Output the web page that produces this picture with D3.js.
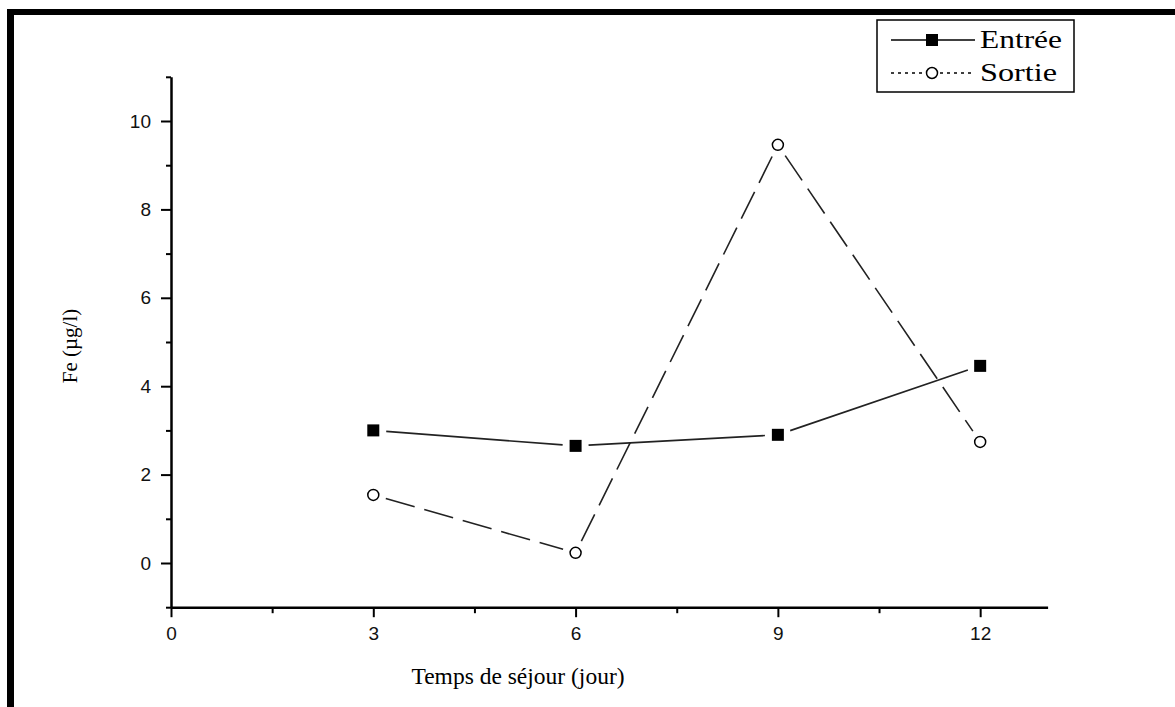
<!DOCTYPE html>
<html>
<head>
<meta charset="utf-8">
<script src="https://cdn.jsdelivr.net/npm/d3@7"></script>
<style>
  body { margin: 0; background: #fff; }
  svg { display: block; }
</style>
</head>
<body>
<svg width="1175" height="707"></svg>
<script>
// data
var days = [3, 6, 9, 12];
var entree = [3.0, 2.65, 2.9, 4.46];
var sortie = [1.54, 0.23, 9.46, 2.74];
var xTicks = [0, 3, 6, 9, 12];
var xMinor = [1.5, 4.5, 7.5, 10.5];
var yTicks = [0, 2, 4, 6, 8, 10];
var yMinor = [-1, 1, 3, 5, 7, 9, 11];

var svg = d3.select("svg");

// frame (top + left only)
svg.append("rect").attr("x", 7).attr("y", 9).attr("width", 1168).attr("height", 6).attr("fill", "#000");
svg.append("rect").attr("x", 7).attr("y", 9).attr("width", 7).attr("height", 698).attr("fill", "#000");

var x = d3.scaleLinear().domain([0, 13]).range([171, 1047.6]);
var y = d3.scaleLinear().domain([-1, 11]).range([607.2, 76.8]);

// minor ticks
svg.append("g")
    .attr("transform", "translate(0," + y(-1) + ")")
    .call(d3.axisBottom(x).tickValues(xMinor).tickSize(6).tickFormat(""))
    .call(function(g) { g.select(".domain").remove(); })
    .selectAll("line").attr("stroke", "#000").attr("stroke-width", 2);

svg.append("g")
    .attr("transform", "translate(" + x(0) + ",0)")
    .call(d3.axisLeft(y).tickValues(yMinor).tickSize(5).tickFormat(""))
    .call(function(g) { g.select(".domain").remove(); })
    .selectAll("line").attr("stroke", "#000").attr("stroke-width", 2);

// major axes
var xAxis = svg.append("g")
    .attr("transform", "translate(0," + y(-1) + ")")
    .call(d3.axisBottom(x).tickValues(xTicks).tickSize(10).tickSizeOuter(0).tickPadding(9).tickFormat(d3.format("d")));
var yAxis = svg.append("g")
    .attr("transform", "translate(" + x(0) + ",0)")
    .call(d3.axisLeft(y).tickValues(yTicks).tickSize(10).tickSizeOuter(0).tickPadding(10).tickFormat(d3.format("d")));

[xAxis, yAxis].forEach(function(g) {
  g.select(".domain").attr("stroke", "#000").attr("stroke-width", 2.5);
  g.selectAll(".tick line").attr("stroke", "#000").attr("stroke-width", 2);
  g.selectAll(".tick text")
    .attr("fill", "#111")
    .style("font-family", "'Liberation Sans', Arial, sans-serif")
    .style("font-size", "19px");
});

// axis titles
svg.append("text")
    .attr("x", 518).attr("y", 684)
    .attr("text-anchor", "middle")
    .style("font-family", "'Liberation Serif', 'Times New Roman', serif")
    .style("font-size", "23.5px")
    .text("Temps de séjour (jour)");

svg.append("text")
    .attr("transform", "translate(77,346) rotate(-90)")
    .attr("text-anchor", "middle")
    .style("font-family", "'Liberation Serif', 'Times New Roman', serif")
    .style("font-size", "21px")
    .text("Fe (µg/l)");

// segments with a gap near each marker
function segments(vals) {
  var pts = days.map(function(d, i) { return [x(d), y(vals[i])]; });
  var segs = [];
  for (var i = 0; i < pts.length - 1; i++) {
    var a = pts[i], b = pts[i + 1];
    var dx = b[0] - a[0], dy = b[1] - a[1];
    var len = Math.sqrt(dx * dx + dy * dy), gap = 13;
    segs.push([a[0] + dx * gap / len, a[1] + dy * gap / len,
               b[0] - dx * gap / len, b[1] - dy * gap / len]);
  }
  return segs;
}

svg.append("g").selectAll("line")
    .data(segments(entree))
    .enter().append("line")
    .attr("x1", function(d) { return d[0]; })
    .attr("y1", function(d) { return d[1]; })
    .attr("x2", function(d) { return d[2]; })
    .attr("y2", function(d) { return d[3]; })
    .attr("stroke", "#222").attr("stroke-width", 1.6);

svg.append("g").selectAll("line")
    .data(segments(sortie))
    .enter().append("line")
    .attr("x1", function(d) { return d[0]; })
    .attr("y1", function(d) { return d[1]; })
    .attr("x2", function(d) { return d[2]; })
    .attr("y2", function(d) { return d[3]; })
    .attr("stroke", "#222").attr("stroke-width", 1.6)
    .attr("stroke-dasharray", "30,10");

svg.append("g").selectAll("rect")
    .data(days)
    .enter().append("rect")
    .attr("x", function(d) { return x(d) - 6; })
    .attr("y", function(d, i) { return y(entree[i]) - 6; })
    .attr("width", 12).attr("height", 12)
    .attr("fill", "#000");

svg.append("g").selectAll("circle")
    .data(days)
    .enter().append("circle")
    .attr("cx", function(d) { return x(d); })
    .attr("cy", function(d, i) { return y(sortie[i]); })
    .attr("r", 5.5)
    .attr("fill", "#fff").attr("stroke", "#000").attr("stroke-width", 1.5);

// legend
var lg = svg.append("g");
lg.append("rect").attr("x", 877).attr("y", 20).attr("width", 197).attr("height", 72)
    .attr("fill", "#fff").attr("stroke", "#000").attr("stroke-width", 1.5);
lg.append("line").attr("x1", 891).attr("x2", 975).attr("y1", 40).attr("y2", 40)
    .attr("stroke", "#000").attr("stroke-width", 1.5);
lg.append("rect").attr("x", 926).attr("y", 34).attr("width", 12).attr("height", 12).attr("fill", "#000");
lg.append("line").attr("x1", 891).attr("x2", 925).attr("y1", 73).attr("y2", 73)
    .attr("stroke", "#000").attr("stroke-width", 1.3).attr("stroke-dasharray", "3,4");
lg.append("line").attr("x1", 940).attr("x2", 975).attr("y1", 73).attr("y2", 73)
    .attr("stroke", "#000").attr("stroke-width", 1.3).attr("stroke-dasharray", "3,4");
lg.append("circle").attr("cx", 932).attr("cy", 73).attr("r", 5.5)
    .attr("fill", "#fff").attr("stroke", "#000").attr("stroke-width", 1.5);
lg.selectAll("text.lbl")
    .data(["Entrée", "Sortie"])
    .enter().append("text")
    .attr("x", 980)
    .attr("y", function(d, i) { return i === 0 ? 48 : 81; })
    .attr("textLength", function(d, i) { return i === 0 ? 82 : 77; })
    .attr("lengthAdjust", "spacingAndGlyphs")
    .style("font-family", "'Liberation Serif', 'Times New Roman', serif")
    .style("font-size", "25px")
    .text(function(d) { return d; });
</script>
</body>
</html>
